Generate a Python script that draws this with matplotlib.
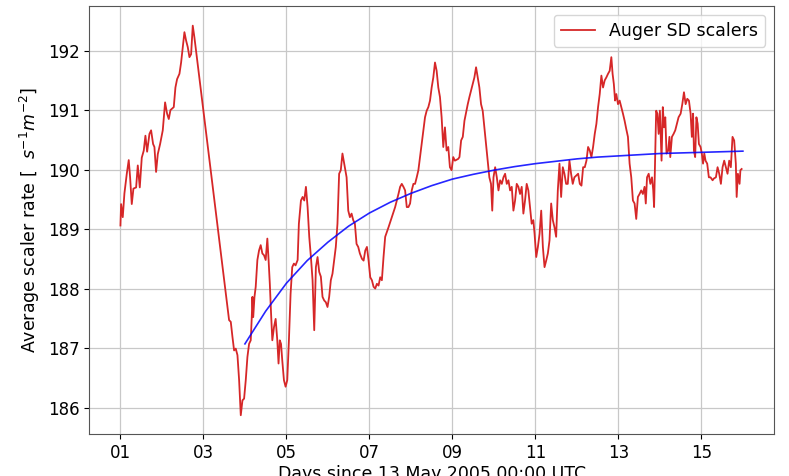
import matplotlib
matplotlib.use("Agg")
import matplotlib.pyplot as plt

# Red series: Auger SD scalers (day, rate)
scaler_days = [
    1.0, 1.016, 1.056, 1.096, 1.153, 1.2, 1.233, 1.273, 1.313, 1.378, 1.418, 1.466, 1.514, 1.562,
    1.602, 1.643, 1.699, 1.739, 1.787, 1.819, 1.859, 1.9, 1.956, 2.02, 2.076, 2.124, 2.165, 2.205,
    2.285, 2.325, 2.365, 2.422, 2.462, 2.502, 2.542, 2.582, 2.622, 2.663, 2.703, 2.743, 2.783,
    3.618, 3.659, 3.699, 3.739, 3.779, 3.82, 3.86, 3.9, 3.94, 3.98, 4.02, 4.06, 4.1, 4.14, 4.165,
    4.18, 4.2, 4.23, 4.26, 4.3, 4.34, 4.38, 4.42, 4.46, 4.5, 4.54, 4.57, 4.6, 4.63, 4.66, 4.7, 4.74,
    4.78, 4.81, 4.84, 4.87, 4.9, 4.94, 4.98, 5.02, 5.06, 5.1, 5.14, 5.18, 5.22, 5.27, 5.3, 5.35,
    5.39, 5.43, 5.47, 5.51, 5.55, 5.59, 5.63, 5.67, 5.71, 5.75, 5.79, 5.83, 5.87, 5.91, 5.95, 5.99,
    6.03, 6.07, 6.11, 6.15, 6.19, 6.23, 6.27, 6.31, 6.35,
    6.45, 6.49, 6.53, 6.57, 6.61, 6.65, 6.69, 6.73, 6.77, 6.82, 6.86, 6.9, 6.94, 6.98, 7.02, 7.06,
    7.1, 7.14, 7.18, 7.22, 7.26, 7.3, 7.34, 7.38, 7.42, 7.46, 7.54, 7.62, 7.7, 7.74, 7.78, 7.82,
    7.86, 7.9, 7.94, 7.98, 8.02, 8.06, 8.1, 8.14, 8.18, 8.22, 8.26, 8.3, 8.34, 8.38, 8.42, 8.46,
    8.5, 8.54, 8.58, 8.62, 8.66, 8.7, 8.74, 8.78, 8.82, 8.86, 8.9, 8.94, 8.98, 9.02, 9.06, 9.14,
    9.17, 9.21, 9.25, 9.29, 9.33, 9.37, 9.41, 9.45, 9.49, 9.53, 9.57, 9.61, 9.65, 9.69, 9.73, 9.77,
    9.81, 9.85, 9.89, 9.93, 9.96, 9.99, 10.03, 10.07, 10.11, 10.15, 10.19, 10.23, 10.27, 10.31,
    10.35, 10.39, 10.43, 10.47, 10.51, 10.55, 10.59, 10.63, 10.67, 10.71, 10.75, 10.79, 10.83,
    10.87, 10.91, 10.95, 10.98, 11.02, 11.06, 11.1, 11.14, 11.18, 11.22, 11.26, 11.3, 11.34, 11.38,
    11.42, 11.46, 11.5, 11.54, 11.58, 11.62, 11.66, 11.7, 11.74, 11.78, 11.82, 11.86, 11.9, 11.94,
    12.03, 12.07, 12.11, 12.15, 12.19, 12.23, 12.27, 12.31, 12.35, 12.39, 12.43, 12.47, 12.51,
    12.55, 12.59, 12.63, 12.67, 12.71, 12.75, 12.79, 12.83, 12.86, 12.89, 12.92, 12.95, 12.99,
    13.03, 13.07, 13.11, 13.15, 13.19, 13.23, 13.27, 13.31, 13.35, 13.39, 13.43, 13.47, 13.51,
    13.55, 13.59, 13.63, 13.66, 13.69, 13.73, 13.77, 13.81, 13.84, 13.86, 13.89, 13.91, 13.94,
    13.97, 14.0, 14.04, 14.07, 14.1, 14.13, 14.16, 14.2, 14.23, 14.25, 14.29, 14.33, 14.37, 14.41,
    14.45, 14.5, 14.54, 14.58, 14.62, 14.66, 14.7, 14.74, 14.77, 14.8, 14.82, 14.85, 14.88, 14.91,
    14.94, 14.98, 15.01, 15.04, 15.07, 15.1, 15.14, 15.18, 15.22, 15.27, 15.3, 15.35, 15.39, 15.43,
    15.47, 15.51, 15.55, 15.59, 15.63, 15.67, 15.71, 15.75, 15.79, 15.83, 15.85, 15.88, 15.92,
    15.94, 15.97,
]
scaler_rate = [
    189.06, 189.42, 189.2, 189.6, 189.93, 190.16, 189.87, 189.42, 189.68, 189.7, 190.07, 189.7,
    190.2, 190.32, 190.57, 190.3, 190.6, 190.66, 190.43, 190.38, 189.96, 190.26, 190.43, 190.66,
    191.13, 190.94, 190.85, 191.0, 191.05, 191.38, 191.52, 191.61, 191.8, 192.06, 192.31, 192.17,
    192.06, 191.89, 191.94, 192.42, 192.22,
    187.47, 187.44, 187.19, 186.96, 186.99, 186.88, 186.46, 185.87, 186.12, 186.15, 186.46, 186.85,
    187.07, 187.13, 187.52, 187.86, 187.52, 187.86, 188.03, 188.48, 188.64, 188.73, 188.59, 188.56,
    188.48, 188.84, 188.48, 188.08, 187.58, 187.13, 187.35, 187.49, 187.13, 186.74, 187.13, 187.07,
    186.79, 186.46, 186.35, 186.46, 187.13, 187.91, 188.36, 188.42, 188.39, 188.48, 189.09, 189.48,
    189.54, 189.48, 189.71, 189.37, 188.87, 188.53, 188.14, 187.3, 188.36, 188.53, 188.28, 188.2,
    187.86, 187.8, 187.77, 187.69, 187.86, 188.14, 188.25, 188.48, 188.7, 189.09, 189.93, 189.99,
    190.27,
    189.87, 189.31, 189.2, 189.26, 189.15, 189.09, 188.75, 188.7, 188.59, 188.5, 188.47, 188.64,
    188.7, 188.47, 188.19, 188.14, 188.03, 188.0, 188.08, 188.05, 188.19, 188.14, 188.53, 188.87,
    188.95, 189.03, 189.2, 189.37, 189.59, 189.71, 189.76, 189.71, 189.65, 189.37, 189.37, 189.43,
    189.65, 189.76, 189.76, 189.87, 189.99, 190.21, 190.43, 190.66, 190.88, 190.99, 191.05, 191.16,
    191.38, 191.55, 191.8, 191.66, 191.38, 191.22, 190.88, 190.38, 190.71, 190.32, 190.38, 190.04,
    189.99, 190.21, 190.15, 190.18,
    190.21, 190.49, 190.55, 190.82, 190.96, 191.1, 191.22, 191.33, 191.44, 191.55, 191.72, 191.55,
    191.38, 191.1, 190.99, 190.71, 190.43, 190.15, 189.87, 189.76, 189.31, 189.87, 190.04, 189.87,
    189.65, 189.82, 189.76, 189.87, 189.93, 189.76, 189.82, 189.65, 189.71, 189.31, 189.48, 189.76,
    189.71, 189.59, 189.71, 189.26, 189.48, 189.76, 189.65, 189.37, 189.09, 189.15, 188.92, 188.53,
    188.7, 188.92, 189.31, 188.7, 188.36, 188.47, 188.59, 188.81, 189.43, 189.15, 189.03, 188.87,
    189.65, 190.1, 189.54, 190.04, 189.93, 189.76, 189.76, 190.15, 189.93, 189.76, 189.87,
    189.93, 189.76, 189.73, 190.04, 190.04, 190.15, 190.38, 190.32, 190.21, 190.38, 190.6, 190.77,
    191.05, 191.27, 191.58, 191.38, 191.5, 191.55, 191.61, 191.66, 191.89, 191.61, 191.44, 191.16,
    191.27, 191.1, 191.16, 191.05, 190.94, 190.82, 190.68, 190.55, 190.1, 189.87, 189.48, 189.43,
    189.17, 189.54, 189.59, 189.65, 189.59, 189.71, 189.43, 189.87, 189.93, 189.76, 189.87, 189.65,
    189.37, 190.32, 190.99, 190.94, 190.6, 190.99, 190.15, 191.05, 190.71, 190.88, 190.27, 190.32,
    190.55, 190.21, 190.55, 190.6, 190.66, 190.77, 190.88,
    190.94, 191.1, 191.3, 191.1, 191.19, 191.16, 190.94, 190.55, 190.94, 190.32, 190.21, 190.88,
    190.77, 190.43, 190.38, 190.27, 190.1, 190.27, 190.15, 190.1, 189.87, 189.87, 189.82, 189.85,
    189.87, 190.04, 189.93, 189.76, 190.04, 190.15, 190.04, 189.93, 190.15, 190.04, 190.55, 190.49,
    190.1, 189.54, 189.93, 189.76, 189.99, 190.01,
]

# Blue smooth curve
fit_days = [4.0, 4.5, 5.0, 5.5, 6.0, 6.5, 7.0, 7.5, 8.0, 8.5, 9.0, 9.5, 10.0, 10.5, 11.0,
            11.5, 12.0, 12.5, 13.0, 13.5, 14.0, 14.5, 15.0, 15.5, 16.0]
fit_rate = [187.07, 187.62, 188.09, 188.47, 188.78, 189.05, 189.27, 189.45, 189.60, 189.73,
            189.84, 189.92, 189.99, 190.05, 190.10, 190.14, 190.18, 190.21, 190.23, 190.25,
            190.27, 190.28, 190.29, 190.30, 190.31]

xtick_pos = [1, 3, 5, 7, 9, 11, 13, 15]
xtick_labels = ["01", "03", "05", "07", "09", "11", "13", "15"]
ytick_pos = [186, 187, 188, 189, 190, 191, 192]

fig = plt.figure(figsize=(7.89, 4.76), dpi=100)
ax = fig.add_axes([0.1132, 0.0876, 0.8678, 0.8998])

ax.plot(scaler_days, scaler_rate, color="#d62728", lw=1.3, label="Auger SD scalers")
ax.plot(fit_days, fit_rate, color="#0000ff", lw=1.2, alpha=0.85)

ax.set_xlim(0.25, 16.75)
ax.set_ylim(185.55, 192.75)
ax.set_xticks(xtick_pos)
ax.set_xticklabels(xtick_labels)
ax.set_yticks(ytick_pos)
ax.tick_params(labelsize=12)
ax.grid(True, color="#c8c8c8", lw=0.9)
ax.set_axisbelow(True)
for s in ax.spines.values():
    s.set_color("#555555")

ax.set_xlabel("Days since 13 May 2005 00:00 UTC", fontsize=12.5, labelpad=2)
ax.set_ylabel(r"Average scaler rate [ $\ s^{-1}m^{-2}$]", fontsize=12.5)
ax.legend(loc="upper right", fontsize=12.5, framealpha=0.8)

fig.savefig("out.png", dpi=100)
